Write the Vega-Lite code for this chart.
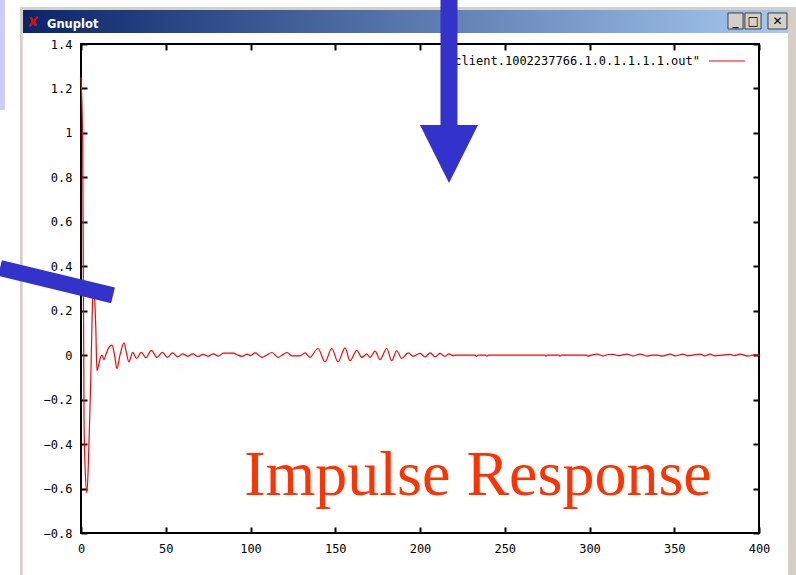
{
  "$schema": "https://vega.github.io/schema/vega-lite/v6.json",
  "width": 678,
  "height": 489,
  "autosize": "none",
  "padding": {"left": 81, "top": 44, "right": 37, "bottom": 42},
  "background": "white",
  "config": {
    "view": {"stroke": "black", "strokeWidth": 2},
    "axis": {
      "domain": false, "grid": false, "tickColor": "black", "tickWidth": 2, "tickSize": -6,
      "labelFont": "DejaVu Sans Mono", "labelFontSize": 12, "labelColor": "black",
      "labelFlush": false, "labelOverlap": false, "labelBound": false
    }
  },
  "datasets": {
    "response": [
      {"x": 0, "y": 1.25}, {"x": 1, "y": 0.95}, {"x": 1.8, "y": -0.3}, {"x": 2.5, "y": -0.52},
      {"x": 3.5, "y": -0.62}, {"x": 4.5, "y": -0.45}, {"x": 5.7, "y": -0.13}, {"x": 6.5, "y": 0.15},
      {"x": 7.1, "y": 0.3}, {"x": 7.8, "y": 0.28}, {"x": 8.7, "y": 0.13}, {"x": 9.4, "y": -0.07},
      {"x": 10.5, "y": -0.04}, {"x": 11.5, "y": -0.01}, {"x": 12.4, "y": 0.0}, {"x": 13.5, "y": -0.02},
      {"x": 15, "y": 0.01}, {"x": 16.5, "y": 0.035}, {"x": 18.3, "y": 0.045}, {"x": 19.8, "y": 0.0},
      {"x": 21.2, "y": -0.06}, {"x": 23, "y": 0.0}, {"x": 25.4, "y": 0.055}, {"x": 26.8, "y": 0.01},
      {"x": 28.3, "y": -0.03}, {"x": 30.5, "y": 0.013}, {"x": 32.8, "y": -0.015}, {"x": 35.5, "y": 0.013},
      {"x": 38.3, "y": -0.012}, {"x": 41.5, "y": 0.022}, {"x": 44.8, "y": -0.01}, {"x": 48, "y": 0.013},
      {"x": 51, "y": -0.01}, {"x": 54, "y": 0.01}, {"x": 57, "y": -0.008}, {"x": 60, "y": 0.006},
      {"x": 63, "y": -0.005}, {"x": 66, "y": 0.006}, {"x": 69, "y": -0.006}, {"x": 72, "y": 0.004},
      {"x": 75, "y": -0.005}, {"x": 78, "y": 0.006}, {"x": 81, "y": -0.004}, {"x": 84, "y": 0.009},
      {"x": 87, "y": 0.009}, {"x": 90, "y": 0.009}, {"x": 92, "y": 0.002}, {"x": 95, "y": -0.005},
      {"x": 98, "y": 0.005}, {"x": 100, "y": -0.002}, {"x": 102.7, "y": 0.01}, {"x": 106.8, "y": -0.01},
      {"x": 109.5, "y": 0.0}, {"x": 112.7, "y": 0.012}, {"x": 116.2, "y": -0.01}, {"x": 118.5, "y": 0.0},
      {"x": 121.5, "y": 0.012}, {"x": 124.5, "y": -0.003}, {"x": 129.2, "y": -0.003}, {"x": 132.2, "y": 0.01},
      {"x": 135, "y": -0.01}, {"x": 139.8, "y": 0.03}, {"x": 144, "y": -0.03}, {"x": 147.9, "y": 0.03},
      {"x": 151.6, "y": -0.03}, {"x": 155.8, "y": 0.033}, {"x": 158.7, "y": -0.025}, {"x": 162.7, "y": 0.022},
      {"x": 165.6, "y": -0.01}, {"x": 168.6, "y": 0.005}, {"x": 170.5, "y": -0.01}, {"x": 173.5, "y": 0.018},
      {"x": 176.4, "y": -0.02}, {"x": 180.4, "y": 0.03}, {"x": 183.3, "y": -0.025}, {"x": 186.3, "y": 0.02},
      {"x": 189.2, "y": -0.015}, {"x": 193.1, "y": 0.01}, {"x": 196, "y": -0.005}, {"x": 200, "y": 0.008},
      {"x": 203, "y": -0.008}, {"x": 206, "y": 0.01}, {"x": 208.9, "y": -0.008}, {"x": 211.8, "y": 0.008},
      {"x": 214.7, "y": -0.005}, {"x": 217, "y": 0.006}, {"x": 219.5, "y": -0.002}, {"x": 221, "y": 0},
      {"x": 232, "y": 0}, {"x": 233.4, "y": -0.004}, {"x": 234.5, "y": 0}, {"x": 238.5, "y": 0},
      {"x": 239.5, "y": -0.004}, {"x": 240.5, "y": 0}, {"x": 273.5, "y": 0}, {"x": 274.3, "y": -0.004},
      {"x": 275, "y": 0}, {"x": 282, "y": 0}, {"x": 282.6, "y": -0.004}, {"x": 283.5, "y": 0},
      {"x": 298, "y": 0}, {"x": 299, "y": -0.004}, {"x": 301, "y": 0}, {"x": 304.4, "y": 0.005},
      {"x": 308, "y": -0.004}, {"x": 311, "y": 0.003}, {"x": 314, "y": 0.004}, {"x": 317, "y": -0.002},
      {"x": 319, "y": 0}, {"x": 322, "y": 0.005}, {"x": 325.7, "y": -0.004}, {"x": 329.8, "y": 0.005},
      {"x": 334, "y": -0.004}, {"x": 337, "y": 0}, {"x": 340, "y": 0}, {"x": 342.8, "y": -0.004},
      {"x": 347.6, "y": 0.005}, {"x": 350.5, "y": -0.003}, {"x": 355.2, "y": 0.005}, {"x": 358, "y": -0.003},
      {"x": 361, "y": 0}, {"x": 365.2, "y": 0.005}, {"x": 368, "y": -0.003}, {"x": 371, "y": 0.005},
      {"x": 374, "y": -0.003}, {"x": 378, "y": 0}, {"x": 383, "y": 0.004}, {"x": 385.5, "y": -0.002},
      {"x": 388.8, "y": 0.005}, {"x": 393.5, "y": -0.004}, {"x": 397, "y": 0.001}, {"x": 400, "y": 0}
    ]
  },
  "resolve": {"axis": {"x": "independent", "y": "independent"}},
  "layer": [
    {
      "data": {"values": [{}]},
      "mark": {"type": "point", "opacity": 0},
      "encoding": {
        "x": {"datum": 0, "type": "quantitative", "axis": {"orient": "top", "values": [0, 50, 100, 150, 200, 250, 300, 350, 400], "labels": false, "title": null}},
        "y": {"datum": 0, "type": "quantitative", "axis": {"orient": "right", "values": [-0.8, -0.6, -0.4, -0.2, 0, 0.2, 0.4, 0.6, 0.8, 1, 1.2, 1.4], "labels": false, "title": null}}
      }
    },
    {
      "data": {"name": "response"},
      "mark": {"type": "line", "color": "#ff0000", "strokeWidth": 1.2, "interpolate": "monotone"},
      "encoding": {
        "x": {"field": "x", "type": "quantitative", "scale": {"domain": [0, 400], "nice": false, "zero": false},
              "axis": {"orient": "bottom", "values": [0, 50, 100, 150, 200, 250, 300, 350, 400], "labelPadding": 16, "title": null}},
        "y": {"field": "y", "type": "quantitative", "scale": {"domain": [-0.8, 1.4], "nice": false, "zero": false},
              "axis": {"orient": "left", "values": [-0.8, -0.6, -0.4, -0.2, 0, 0.2, 0.4, 0.6, 0.8, 1, 1.2, 1.4], "format": ".2~f", "labelPadding": 15, "title": null}}
      }
    },
    {
      "data": {"values": [{}]},
      "mark": {"type": "rect", "color": "#ccccff"},
      "encoding": {
        "x": {"datum": -47.8, "type": "quantitative", "axis": null}, "x2": {"datum": -44.9},
        "y": {"datum": 1.6, "type": "quantitative", "axis": null}, "y2": {"datum": 1.103}
      }
    },
    {
      "data": {"values": [{}]},
      "mark": {"type": "rect", "color": "#d4d0c8"},
      "encoding": {
        "x": {"datum": -36.0, "type": "quantitative", "axis": null}, "x2": {"datum": 421.8},
        "y": {"datum": 1.5664, "type": "quantitative", "axis": null}, "y2": {"datum": 1.4495}
      }
    },
    {
      "data": {"values": [{}]},
      "mark": {"type": "rect", "color": "#d4d0c8"},
      "encoding": {
        "x": {"datum": 417.1, "type": "quantitative", "axis": null}, "x2": {"datum": 421.8},
        "y": {"datum": 1.4495, "type": "quantitative", "axis": null}, "y2": {"datum": -0.99}
      }
    },
    {
      "data": {"values": [{}]},
      "mark": {"type": "rect", "color": "#d4d0c8"},
      "encoding": {
        "x": {"datum": -36.0, "type": "quantitative", "axis": null}, "x2": {"datum": -34.4},
        "y": {"datum": 1.4495, "type": "quantitative", "axis": null}, "y2": {"datum": -0.99}
      }
    },
    {
      "data": {"values": [{}]},
      "mark": {"type": "rect", "color": {"gradient": "linear", "stops": [{"offset": 0, "color": "#0a246a"}, {"offset": 1, "color": "#a6caf0"}]}},
      "encoding": {
        "x": {"datum": -34.2, "type": "quantitative", "axis": null}, "x2": {"datum": 417.1},
        "y": {"datum": 1.553, "type": "quantitative", "axis": null}, "y2": {"datum": 1.4495}
      }
    },
    {
      "data": {"values": [{"a": 381.7, "b": 390.6}, {"a": 391.7, "b": 401.2}, {"a": 405.3, "b": 416.5}]},
      "mark": {"type": "rect", "color": "#d4d0c8", "stroke": "#404040", "strokeWidth": 1},
      "encoding": {
        "x": {"field": "a", "type": "quantitative", "axis": null}, "x2": {"field": "b"},
        "y": {"datum": 1.5395, "type": "quantitative", "axis": null}, "y2": {"datum": 1.4675}
      }
    },
    {
      "data": {"values": [{"a": 386.1, "g": "_"}, {"a": 396.5, "g": "□"}, {"a": 410.9, "g": "✕"}]},
      "mark": {"type": "text", "font": "DejaVu Sans", "fontWeight": "bold", "fontSize": 12, "color": "black", "baseline": "middle"},
      "encoding": {
        "x": {"field": "a", "type": "quantitative", "axis": null},
        "y": {"datum": 1.5035, "type": "quantitative", "axis": null},
        "text": {"field": "g"}
      }
    },
    {
      "data": {"values": [{}]},
      "mark": {"type": "text", "text": "Gnuplot", "font": "DejaVu Sans", "fontWeight": "bold", "fontSize": 11.5, "color": "white", "align": "left", "baseline": "alphabetic"},
      "encoding": {
        "x": {"datum": -20.06, "type": "quantitative", "axis": null},
        "y": {"datum": 1.472, "type": "quantitative", "axis": null}
      }
    },
    {
      "data": {"values": [{}]},
      "mark": {"type": "text", "text": "✘", "font": "DejaVu Sans", "fontSize": 15, "color": "#cc1111", "align": "center", "baseline": "middle"},
      "encoding": {
        "x": {"datum": -28.3, "type": "quantitative", "axis": null},
        "y": {"datum": 1.499, "type": "quantitative", "axis": null}
      }
    },
    {
      "data": {"values": [{}]},
      "mark": {"type": "text", "text": "\"client.1002237766.1.0.1.1.1.1.out\"", "font": "DejaVu Sans Mono", "fontSize": 12, "color": "black", "align": "right", "baseline": "middle"},
      "encoding": {
        "x": {"datum": 365.2, "type": "quantitative", "axis": null},
        "y": {"datum": 1.3235, "type": "quantitative", "axis": null}
      }
    },
    {
      "data": {"values": [{}]},
      "mark": {"type": "rule", "color": "#ff0000", "strokeWidth": 1.2},
      "encoding": {
        "x": {"datum": 370.5, "type": "quantitative", "axis": null}, "x2": {"datum": 391.7},
        "y": {"datum": 1.3235, "type": "quantitative", "axis": null}
      }
    },
    {
      "data": {"values": [{}]},
      "mark": {"type": "text", "text": "Impulse Response", "font": "Liberation Serif", "fontSize": 64, "color": "#ff3300", "align": "center", "baseline": "alphabetic"},
      "encoding": {
        "x": {"datum": 234.2, "type": "quantitative", "axis": null},
        "y": {"datum": -0.629, "type": "quantitative", "axis": null}
      }
    },
    {
      "data": {"values": [{}]},
      "mark": {"type": "rule", "color": "#3333cc", "strokeWidth": 17, "strokeCap": "butt"},
      "encoding": {
        "x": {"datum": 217.1, "type": "quantitative", "axis": null},
        "y": {"datum": 1.62, "type": "quantitative", "axis": null}, "y2": {"datum": 1.03}
      }
    },
    {
      "data": {"values": [{}]},
      "mark": {"type": "point", "shape": "M -1 -1 L 1 -1 L 0 1 Z", "size": 3364, "filled": true, "color": "#3333cc", "opacity": 1},
      "encoding": {
        "x": {"datum": 217.1, "type": "quantitative", "axis": null},
        "y": {"datum": 0.905, "type": "quantitative", "axis": null}
      }
    },
    {
      "data": {"values": [{}]},
      "mark": {"type": "rule", "color": "#3333cc", "strokeWidth": 16, "strokeCap": "butt"},
      "encoding": {
        "x": {"datum": -47.8, "type": "quantitative", "axis": null}, "x2": {"datum": 18.9},
        "y": {"datum": 0.392, "type": "quantitative", "axis": null}, "y2": {"datum": 0.269}
      }
    }
  ]
}
